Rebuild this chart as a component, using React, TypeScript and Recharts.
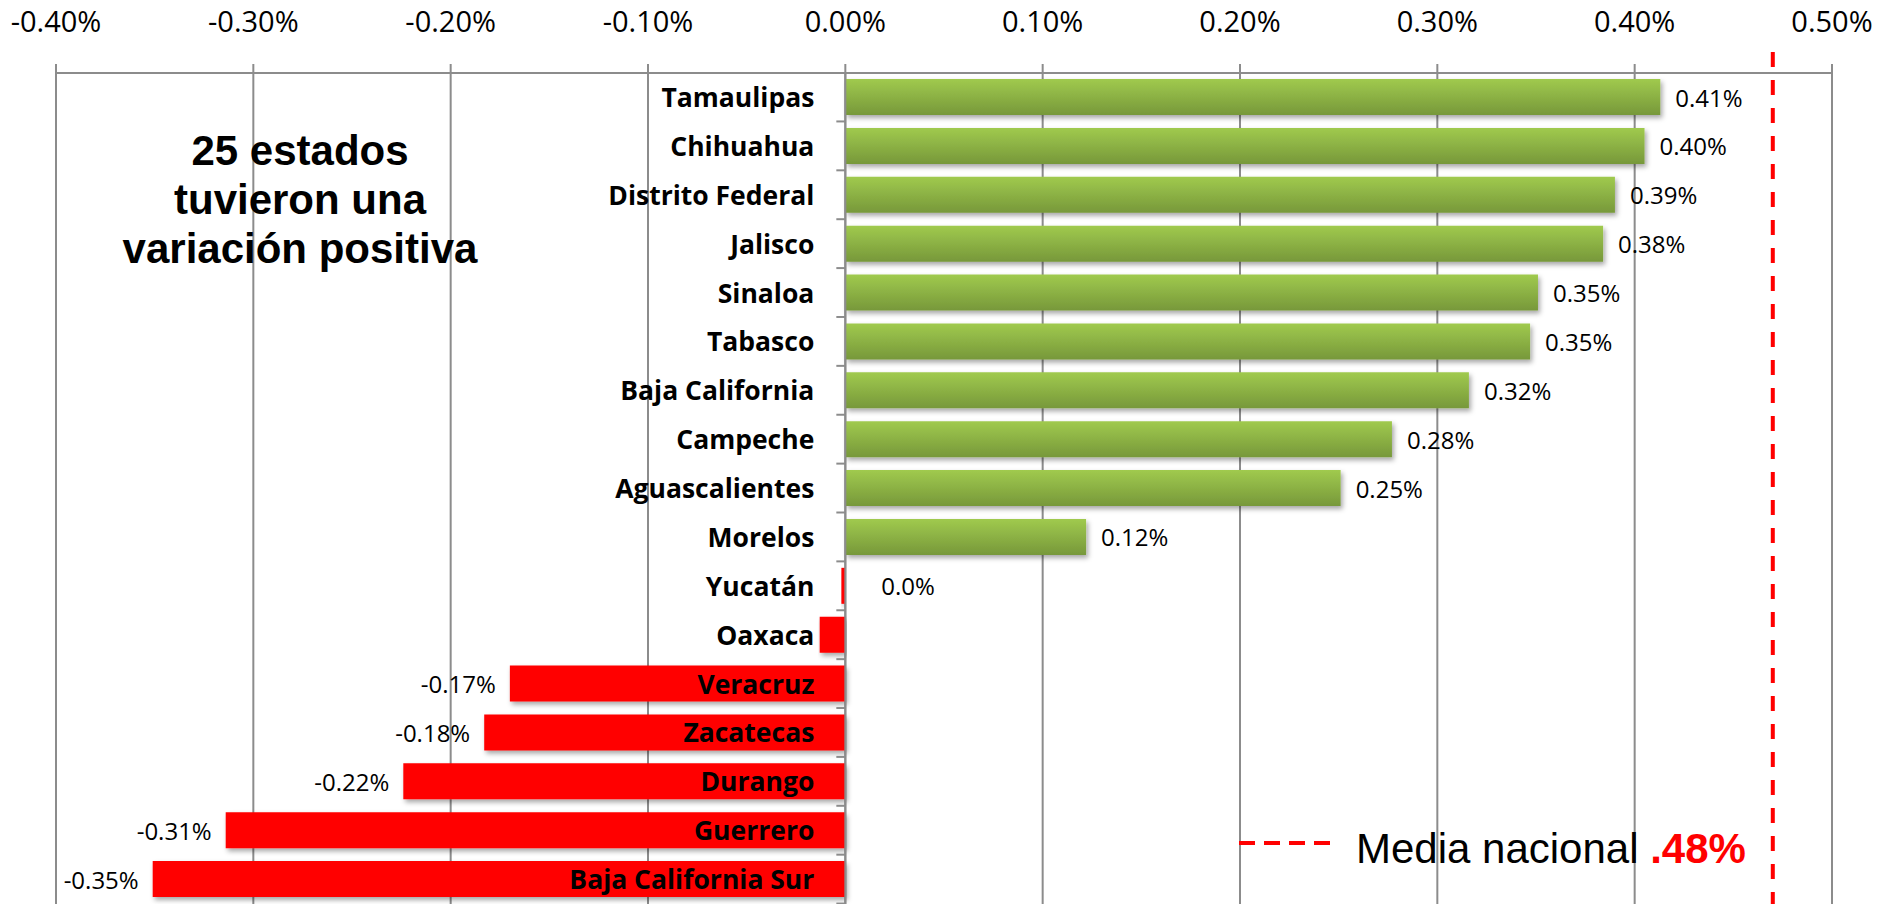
import { Bar, BarChart, CartesianGrid, Cell, LabelList, ReferenceLine, XAxis, YAxis } from "recharts"

const states = [
  "Tamaulipas",
  "Chihuahua",
  "Distrito Federal",
  "Jalisco",
  "Sinaloa",
  "Tabasco",
  "Baja California",
  "Campeche",
  "Aguascalientes",
  "Morelos",
  "Yucatán",
  "Oaxaca",
  "Veracruz",
  "Zacatecas",
  "Durango",
  "Guerrero",
  "Baja California Sur",
]
const variation = [
  0.413, 0.405, 0.39, 0.384, 0.351, 0.347, 0.316, 0.277, 0.251, 0.122, -0.002, -0.013, -0.17, -0.183,
  -0.224, -0.314, -0.351,
]
const valueLabels = [
  "0.41%", "0.40%", "0.39%", "0.38%", "0.35%", "0.35%", "0.32%", "0.28%", "0.25%", "0.12%", "0.0%", "",
  "-0.17%", "-0.18%", "-0.22%", "-0.31%", "-0.35%",
]
const xTicks = [-0.4, -0.3, -0.2, -0.1, 0, 0.1, 0.2, 0.3, 0.4, 0.5]
const meanLinePos = 0.47
const meanText = ".48%"
const noteLines = ["25 estados", "tuvieron una", "variación positiva"]

const W = 1879
const H = 904
const AXIS_H = 73
const BAND = (H - AXIS_H) / states.length
const GRID = "#8c8c8c"
const OPEN = "'Open Sans', sans-serif"
const ARIAL = "'Liberation Sans', Arial, sans-serif"

const data = states.map((name, i) => ({ name, value: variation[i] }))

function barEdges(props: any) {
  const vb = props.viewBox ?? props
  const x = Number(vb.x)
  const w = Number(vb.width)
  return {
    left: Math.min(x, x + w),
    right: Math.max(x, x + w),
    cy: Number(vb.y) + Number(vb.height) / 2,
  }
}

function NameLabel(props: any) {
  const i = props.index
  const { left, right, cy } = barEdges(props)
  const x0 = variation[i] >= 0 ? left : right
  const top = cy - BAND / 2
  return (
    <g>
      <line x1={x0 - 9} x2={x0} y1={top + BAND} y2={top + BAND} stroke={GRID} strokeWidth={2} />
      <text
        x={x0 - 31}
        y={cy}
        textAnchor="end"
        dominantBaseline="central"
        fontFamily={OPEN}
        fontWeight={700}
        fontSize={26.5}
        fill="#000"
      >
        {states[i]}
      </text>
    </g>
  )
}

function ValueLabel(props: any) {
  const i = props.index
  const text = valueLabels[i]
  if (!text) return null
  const { left, right, cy } = barEdges(props)
  const neg = text.startsWith("-")
  const x = neg ? left - 14 : variation[i] >= 0 ? right + 15 : right + 36
  return (
    <text
      x={x}
      y={cy}
      textAnchor={neg ? "end" : "start"}
      dominantBaseline="central"
      fontFamily={OPEN}
      fontSize={24}
      fill="#000"
    >
      {text}
    </text>
  )
}

function MeanLine(props: any) {
  const y1 = Math.min(props.y1, props.y2)
  const y2 = Math.max(props.y1, props.y2)
  return (
    <line
      x1={props.x1}
      x2={props.x2}
      y1={y1 - 21}
      y2={y2}
      stroke="#ff0000"
      strokeWidth={4}
      strokeDasharray="15 13"
    />
  )
}

export default function App() {
  return (
    <div style={{ position: "absolute", left: 0, top: 0, width: W, height: H, background: "#fff", overflow: "hidden" }}>
      <BarChart
        width={W}
        height={H}
        data={data}
        layout="vertical"
        margin={{ top: 0, right: 47, bottom: 0, left: 56 }}
        barSize={36}
      >
        <defs>
          <linearGradient id="greenFill" x1="0" y1="0" x2="0" y2="1">
            <stop offset="0%" stopColor="#a0ca4e" />
            <stop offset="100%" stopColor="#77983a" />
          </linearGradient>
          <filter id="barShadow" x="-5%" y="-20%" width="110%" height="160%">
            <feDropShadow dx={2} dy={3} stdDeviation={2.5} floodColor="#000" floodOpacity={0.35} />
          </filter>
        </defs>
        <CartesianGrid horizontal={false} stroke={GRID} strokeWidth={2} />
        <XAxis
          type="number"
          orientation="top"
          domain={[-0.4, 0.5]}
          ticks={xTicks}
          allowDataOverflow
          height={AXIS_H}
          tickSize={9}
          tickMargin={32}
          tickFormatter={(v: number) => `${v.toFixed(2)}%`}
          axisLine={{ stroke: GRID, strokeWidth: 2 }}
          tickLine={{ stroke: GRID, strokeWidth: 2 }}
          tick={{ fontFamily: OPEN, fontSize: 29, fill: "#000" }}
        />
        <YAxis type="category" dataKey="name" hide />
        <Bar dataKey="value" isAnimationActive={false}>
          {data.map((d, i) => (
            <Cell key={i} fill={d.value >= 0 ? "url(#greenFill)" : "#ff0000"} filter="url(#barShadow)" />
          ))}
          <LabelList dataKey="value" content={ValueLabel} />
          <LabelList dataKey="name" content={NameLabel} />
        </Bar>
        <ReferenceLine x={0} stroke={GRID} strokeWidth={2} />
        <ReferenceLine x={meanLinePos} shape={MeanLine} />
      </BarChart>
      <svg width={W} height={H} style={{ position: "absolute", left: 0, top: 0, pointerEvents: "none" }}>
        {noteLines.map((line, i) => (
          <text
            key={line}
            x={300}
            y={165 + i * 49}
            textAnchor="middle"
            fontFamily={ARIAL}
            fontWeight={700}
            fontSize={42}
            fill="#000"
          >
            {line}
          </text>
        ))}
        <line x1={1239} x2={1336} y1={843} y2={843} stroke="#ff0000" strokeWidth={4} strokeDasharray="16 9" />
        <text x={1356} y={863} fontFamily={ARIAL} fontSize={42} fill="#000">
          Media nacional{" "}
          <tspan fontWeight={700} fill="#ff0000">
            {meanText}
          </tspan>
        </text>
      </svg>
    </div>
  )
}
